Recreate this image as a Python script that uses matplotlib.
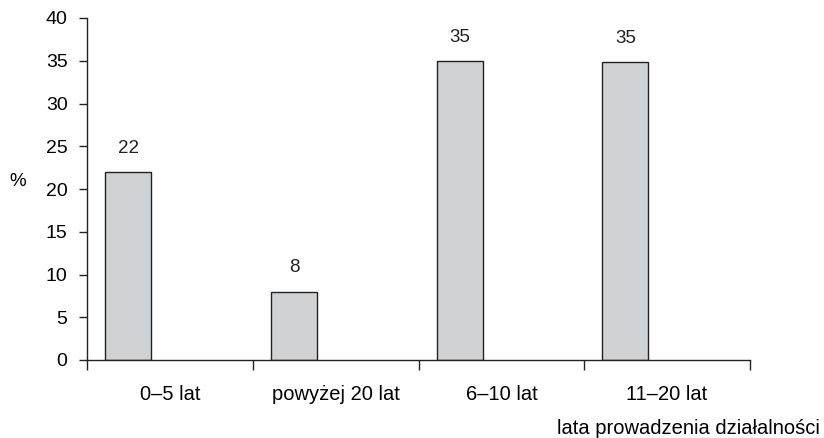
import matplotlib
matplotlib.use('Agg')
import matplotlib.pyplot as plt
import numpy as np

font = {'family': 'sans-serif',
        'sans-serif': ['Liberation Sans', 'DejaVu Sans'],
        'size': 13.5}
matplotlib.rc('font', **font)

categories = ['0–5 lat', 'powyżej 20 lat', '6–10 lat', '11–20 lat']
values = [22.0, 8.0, 35.0, 34.8]
labels = ['22', '8', '35', '35']

fig = plt.figure(figsize=(8.24, 4.38), dpi=100)
ax = fig.add_axes([87/824, 1 - 360/438, (750 - 87)/824, (360 - 18)/438])

x = np.arange(len(categories))
bar_w = 0.277
centers = x - 0.5 + 0.11 + bar_w / 2
bars = ax.bar(centers, values, width=bar_w, color='#d1d2d4',
              edgecolor='#222222', linewidth=1.0)
for b, lab in zip(bars, labels):
    ax.annotate(lab, (b.get_x() + b.get_width() / 2, b.get_height()),
                xytext=(0, 17), textcoords='offset points',
                ha='center', va='center', fontsize=13.5, color='#222222')

ax.set_xlim(-0.5, len(categories) - 0.5)
ax.set_ylim(0, 40)
ax.set_yticks(range(0, 41, 5))
ax.set_xticks(np.arange(len(categories) + 1) - 0.5)
ax.set_xticklabels([])
ax.set_xticks(x, minor=True)
ax.set_xticklabels(categories, minor=True)
ax.tick_params(axis='x', which='minor', length=0, pad=18, labelsize=14.5)
ax.tick_params(axis='x', which='major', length=7, width=1, color='#222222')
ax.tick_params(axis='y', length=6, width=1, color='#222222', pad=8, labelsize=14)

for s in ['top', 'right']:
    ax.spines[s].set_visible(False)
for s in ['left', 'bottom']:
    ax.spines[s].set_color('#222222')
    ax.spines[s].set_linewidth(1)

fig.text(18/824, 1 - 182/438, '%', ha='center', va='center', fontsize=13.5)
fig.text(820/824, 1 - 428/438, 'lata prowadzenia działalności',
         ha='right', va='center', fontsize=14.5)

fig.savefig('out.png', dpi=100)
